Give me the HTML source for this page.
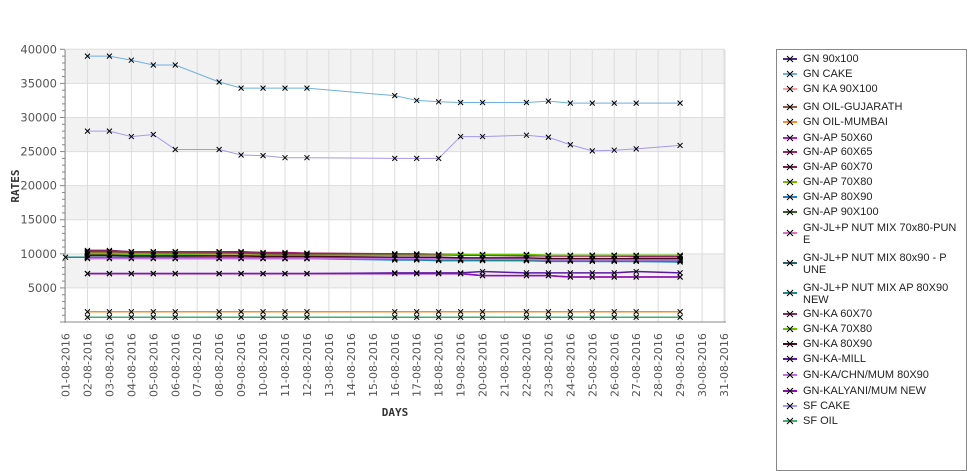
<!DOCTYPE html>
<html><head><meta charset="utf-8">
<style>
body{margin:0;width:975px;height:429px;overflow:hidden;background:#fff;font-family:"Liberation Sans","DejaVu Sans",sans-serif;}
#legend{position:absolute;left:776px;top:49px;width:189px;height:420px;border:1px solid #888;background:#fff;}
.le{position:absolute;left:0;font-size:11px;color:#222;line-height:12px;}
.le span.t{position:absolute;left:26px;width:160px;}
.le svg{position:absolute;left:6px;}
</style></head>
<body>
<svg id="chart" width="775" height="429" style="position:absolute;left:0;top:0"></svg>
<div id="legend"></div>
<script>
const days = [2,3,4,5,6,8,9,10,11,12,16,17,18,19,20,22,23,24,25,26,27,29];
const seriesNames = ["GN 90x100","GN CAKE","GN KA 90X100","GN OIL-GUJARATH","GN OIL-MUMBAI","GN-AP 50X60","GN-AP 60X65","GN-AP 60X70","GN-AP 70X80","GN-AP 80X90","GN-AP 90X100","GN-JL+P NUT MIX 70x80-PUNE","GN-JL+P NUT MIX 80x90 - PUNE","GN-JL+P NUT MIX AP 80X90 NEW","GN-KA 60X70","GN-KA 70X80","GN-KA 80X90","GN-KA-MILL","GN-KA/CHN/MUM 80X90","GN-KALYANI/MUM NEW","SF CAKE","SF OIL"];
const legendLabels = ["GN 90x100","GN CAKE","GN KA 90X100","GN OIL-GUJARATH","GN OIL-MUMBAI","GN-AP 50X60","GN-AP 60X65","GN-AP 60X70","GN-AP 70X80","GN-AP 80X90","GN-AP 90X100","GN-JL+P NUT MIX 70x80-PUN<br>E","GN-JL+P NUT MIX 80x90 - P<br>UNE","GN-JL+P NUT MIX AP 80X90<br>NEW","GN-KA 60X70","GN-KA 70X80","GN-KA 80X90","GN-KA-MILL","GN-KA/CHN/MUM 80X90","GN-KALYANI/MUM NEW","SF CAKE","SF OIL"];
const colors = ["#4b2a8a","#6fb0dc","#f4a0a0","#8b5a3c","#f29030","#b020c0","#a02070","#7a2050","#7cb800","#1e7fc8","#3a5a20","#e070c0","#2a6070","#1a8a8a","#8a2a60","#66c000","#4a0a20","#5a1aa0","#c070e0","#8a10b0","#a898e8","#40b070"];
const sGN90 = [9600,9600,9600,9600,9600,9600,9600,9600,9500,9500,9500,9400,9400,9400,9300,9300,9300,9200,9200,9200,9200,9200];
const sCake = [39000,39000,38400,37700,37700,35200,34300,34300,34300,34300,33200,32500,32300,32200,32200,32200,32400,32100,32100,32100,32100,32100];
const sKA90 = [10000,10000,10000,10000,10000,10000,10000,10000,10000,9900,9900,9900,9800,9800,9800,9800,9700,9700,9700,9700,9700,9700];
const sOilG = [10200,10200,10100,10100,10100,10100,10100,10000,10000,10000,10000,9900,9900,9900,9800,9800,9800,9700,9700,9700,9600,9600];
const sOilM = [1500,1500,1500,1500,1500,1500,1500,1500,1500,1500,1500,1500,1500,1500,1500,1500,1500,1500,1500,1500,1500,1500];
const sAP5060 = [7100,7100,7100,7100,7100,7100,7100,7100,7100,7100,7100,7100,7100,7100,6800,6800,6800,6600,6600,6600,6600,6600];
const sAP6065 = [10300,10300,10300,10300,10300,10300,10300,10200,10200,10100,10000,10000,9900,9900,9800,9800,9700,9700,9700,9700,9700,9700];
const sAP6070 = [10500,10500,10300,10300,10300,10300,10300,10100,10000,10000,9900,9900,9800,9800,9800,9700,9700,9700,9800,9800,9700,9600];
const sAP7080 = [10100,10100,10000,10000,9800,9800,9800,9700,9700,9800,9800,9800,9800,9800,9800,9800,9700,9700,9700,9700,9600,9600];
const sAP8090 = [9500,9500,9500,9500,9400,9400,9400,9400,9300,9300,9100,9100,9000,9000,9000,9000,8900,8900,8900,8900,8900,8800];
const sAP90100 = [9700,9700,9700,9700,9300,9300,9500,9500,9400,9400,9400,9300,9300,9300,9300,9200,9200,9200,9100,9100,9000,9000];
const sJL7080 = [9600,9600,9600,9600,9600,9600,9600,9600,9500,9500,9500,9400,9400,9400,9300,9300,9300,9300,9200,9200,9200,9200];
const sJL8090 = [9400,9400,9400,9400,9400,9400,9300,9300,9300,9300,9300,9200,9200,9200,9100,9100,9100,9100,9100,9000,9000,9000];
const sJLAP = [9500,9500,9500,9500,9500,9400,9400,9400,9300,9300,9200,9200,9100,9100,9100,9000,9000,9000,8900,8900,8900,8900];
const sKA6070 = [10400,10400,10300,10300,10300,10300,10200,10100,10000,10000,9900,9900,9900,9800,9800,9800,9700,9700,9700,9700,9600,9600];
const sKA7080 = [10000,10000,9900,9900,9900,9800,9800,9800,9800,9800,9800,9800,9800,9900,9900,9900,9800,9800,9800,9800,9800,9800];
const sKA8090 = [9800,9800,9700,9700,9700,9700,9700,9600,9600,9600,9500,9500,9500,9400,9400,9400,9300,9300,9300,9300,9300,9300];
const sKAMill = [7100,7100,7100,7100,7100,7100,7100,7100,7100,7100,7200,7200,7200,7200,7400,7200,7200,7200,7200,7200,7400,7200];
const sKACHN = [9300,9300,9300,9300,9300,9300,9300,9300,9300,9300,9300,9300,9200,9200,9200,9200,9100,9100,9100,9100,9100,9100];
const sKalyani = [7100,7100,7100,7100,7100,7100,7100,7100,7100,7100,7100,7100,7100,7100,6800,6800,6800,6600,6600,6600,6600,6600];
const sSFCake = [28000,28000,27200,27500,25300,25300,24500,24400,24100,24100,24000,24000,24000,27200,27200,27400,27100,26000,25100,25200,25400,25900];
const sSFOil = [700,700,700,700,700,700,700,700,700,700,700,700,700,700,700,700,700,700,700,700,700,700];
const seriesValues = [sGN90,sCake,sKA90,sOilG,sOilM,sAP5060,sAP6065,sAP6070,sAP7080,sAP8090,sAP90100,sJL7080,sJL8090,sJLAP,sKA6070,sKA7080,sKA8090,sKAMill,sKACHN,sKalyani,sSFCake,sSFOil];
const startDay = [1];
const startValue = [9500];
const yTicks = [5000,10000,15000,20000,25000,30000,35000,40000];
const xTickDays = [1,2,3,4,5,6,7,8,9,10,11,12,13,14,15,16,17,18,19,20,21,22,23,24,25,26,27,28,29,30,31];

const NS="http://www.w3.org/2000/svg";
const svg=document.getElementById('chart');
const L=65,R=725,T=50,B=322;
const xS=d=>65.5+(d-1)*21.95;
const yS=v=>B-(v/40000)*(B-T+0.7);
function mk(tag,attrs,parent){const e=document.createElementNS(NS,tag);for(const k in attrs)e.setAttribute(k,attrs[k]);(parent||svg).appendChild(e);return e;}

const bands=mk('g',{});


for(let v=0;v<40000;v+=5000){
  mk('rect',{x:L,y:yS(v+5000),width:R-L,height:yS(v)-yS(v+5000),fill:(v/5000)%2===1?'#f2f2f2':'#ffffff'},bands);
}
const grid=mk('g',{stroke:'#dddddd','stroke-width':1});


xTickDays.forEach(d=>mk('line',{x1:xS(d),x2:xS(d),y1:T,y2:B},grid));
yTicks.forEach(v=>mk('line',{x1:L,x2:R,y1:yS(v),y2:yS(v)},grid));
mk('line',{x1:R,x2:R,y1:T,y2:B},grid);

const yAx=mk('g',{});


mk('line',{x1:L,x2:L,y1:T,y2:B+1,stroke:'#888'},yAx);
for(let v=0;v<=40000;v+=1000){mk('line',{x1:L-(v%5000===0?5:3),x2:L,y1:yS(v),y2:yS(v),stroke:'#888'},yAx);}
yTicks.forEach(v=>{const t=mk('text',{x:57,y:yS(v)+4,'text-anchor':'end','font-size':11.5,fill:'#555','font-family':'DejaVu Sans, sans-serif'},yAx);t.textContent=v;});
const yt=mk('text',{x:19,y:186,transform:'rotate(-90 19 186)','text-anchor':'middle','font-size':11,'font-weight':'bold',fill:'#333','font-family':'DejaVu Sans Mono, monospace'});


yt.textContent='RATES';

const xAx=mk('g',{});


mk('line',{x1:L-5,x2:R+1,y1:B,y2:B,stroke:'#888'},xAx);
xTickDays.forEach(d=>{const x=xS(d)+4;const t=mk('text',{x:x,y:397,transform:`rotate(-90 ${x} 397)`,'font-size':11,fill:'#555','font-family':'DejaVu Sans, sans-serif'},xAx);t.textContent=String(d).padStart(2,'0')+'-08-2016';});
const xt=mk('text',{x:395,y:416,'text-anchor':'middle','font-size':11,'font-weight':'bold',fill:'#333','font-family':'DejaVu Sans Mono, monospace'});


xt.textContent='DAYS';

function cross(g,x,y){mk('path',{d:`M${x-2.5},${y-2.5}L${x+2.5},${y+2.5}M${x-2.5},${y+2.5}L${x+2.5},${y-2.5}`,stroke:'#000','stroke-width':1},g);}
seriesValues.forEach((vals,i)=>{
  const g=mk('g',{});
  
  
  let ds=days.slice(),vs=vals.slice();
  if(i===13){ds=startDay.concat(ds);vs=startValue.concat(vs);}
  const pts=ds.map((d,j)=>xS(d)+','+yS(vs[j])).join(' ');
  mk('polyline',{points:pts,fill:'none',stroke:colors[i],'stroke-width':(i===1||i===20)?1:1.5},g);
  ds.forEach((d,j)=>cross(g,xS(d),yS(vs[j])));
});

const lg=document.getElementById('legend');
const tops=[3,18,33,51,66,82,96,111,126,141,156,172,202,232,258,273,288,303,319,335,350,365];
legendLabels.forEach((lab,i)=>{
  const d=document.createElement('div');
  d.className='le';
  d.style.top=tops[i]+'px';
  
  
  const two=lab.indexOf('<br>')>=0;
  const my=two?10:5;
  d.innerHTML=`<svg width="14" height="12" style="top:${my-5}px"><line x1="0" y1="6" x2="14" y2="6" stroke="${colors[i]}" stroke-width="2"/><path d="M4,3L10,9M4,9L10,3" stroke="#000" stroke-width="1"/></svg><span class="t">${lab}</span>`;
  lg.appendChild(d);
});
</script>
</body></html>
